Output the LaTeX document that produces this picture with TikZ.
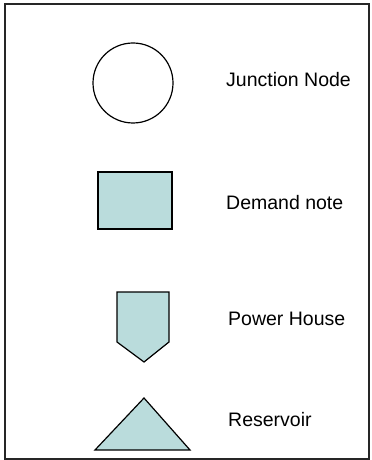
\documentclass[tikz,border=0pt]{standalone}
\usepackage{fontspec}
\setmainfont{Liberation Sans}
\definecolor{symbolfill}{RGB}{186,220,220}
\tikzset{
  legendtext/.style={anchor=west, inner sep=0pt, font=\fontsize{19.5bp}{23bp}\selectfont},
  symboledge/.style={draw=black, line width=1.2bp}
}

\begin{document}
\begin{tikzpicture}[x=1bp,y=-1bp]
\useasboundingbox (0,0) rectangle (371,460);
% draws frame
\draw[line width=1.6bp, draw=black!85] (5,4) rectangle (369,459);
% draws symbols
\node[circle, symboledge, minimum size=80bp, inner sep=0pt] (junction) at (133,83){};
\node[rectangle, symboledge, fill=symbolfill, minimum width=74bp, minimum height=57bp, inner sep=0pt] (demand) at (135,200.5){};
\draw[symboledge, fill=symbolfill] (117,292) -- (169,292) -- (169,342) -- (144,362) -- (117,342) -- cycle;
\draw[symboledge, fill=symbolfill] (95,450) -- (144,398) -- (190,450) -- cycle;
% labels symbols
\node[legendtext] (junctionlabel) at (226,80) {Junction Node};
\node[legendtext] (demandlabel) at (226,203) {Demand note};
\node[legendtext] (powerlabel) at (228,319) {Power House};
\node[legendtext] (reservoirlabel) at (228,420) {Reservoir};
\end{tikzpicture}
\end{document}
